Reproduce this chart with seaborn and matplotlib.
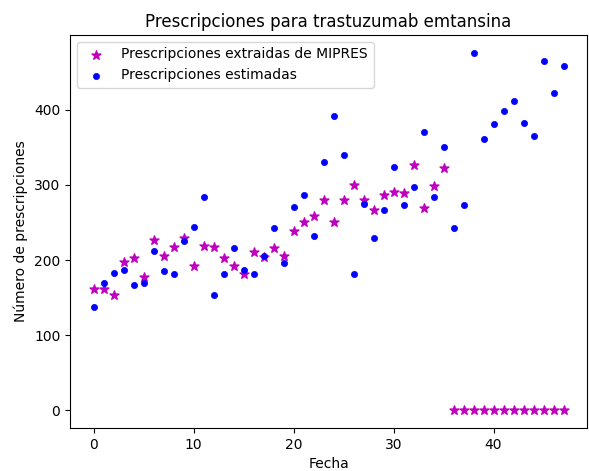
import numpy as np
import pandas as pd
import seaborn as sns
import matplotlib
matplotlib.use("Agg")
import matplotlib.pyplot as plt

# month index
fecha = list(range(48))

# prescriptions extracted from MIPRES (0 where no data)
mipres = [161, 161, 153, 198, 203, 178, 227, 206, 218, 229,
          192, 219, 218, 203, 192, 182, 211, 204, 216, 206,
          239, 250, 259, 280, 250, 280, 300, 280, 267, 286,
          291, 289, 327, 269, 299, 323,
          0, 0, 0, 0, 0, 0, 0, 0, 0, 0, 0, 0]

# estimated prescriptions
estimadas = [138, 169, 183, 187, 167, 170, 212, 185, 182, 226,
             244, 284, 153, 181, 216, 187, 182, 206, 243, 196,
             270, 287, 232, 331, 392, 340, 182, 275, 229, 266,
             324, 273, 297, 371, 284, 350, 242, 273, 476, 361,
             381, 399, 412, 382, 365, 465, 423, 458]

df = pd.DataFrame({"Fecha": fecha, "mipres": mipres, "estimadas": estimadas})

fig = plt.figure(figsize=(5.89, 4.71), dpi=100)
ax = fig.add_axes([0.119, 0.0913, 0.8776, 0.8344])

sns.scatterplot(data=df, x="Fecha", y="mipres", marker="*", color="m",
                s=45, edgecolor="m", linewidth=1, label="Prescripciones extraidas de MIPRES", ax=ax)
sns.scatterplot(data=df, x="Fecha", y="estimadas", marker="o", color="b",
                s=20, edgecolor="b", linewidth=0.5, label="Prescripciones estimadas", ax=ax)

ax.set_title("Prescripciones para trastuzumab emtansina")
ax.set_xlabel("Fecha")
ax.set_ylabel("Número de prescripciones")
ax.set_yticks([0, 100, 200, 300, 400])
ax.legend(loc="upper left")

fig.savefig("out.png", dpi=100)
